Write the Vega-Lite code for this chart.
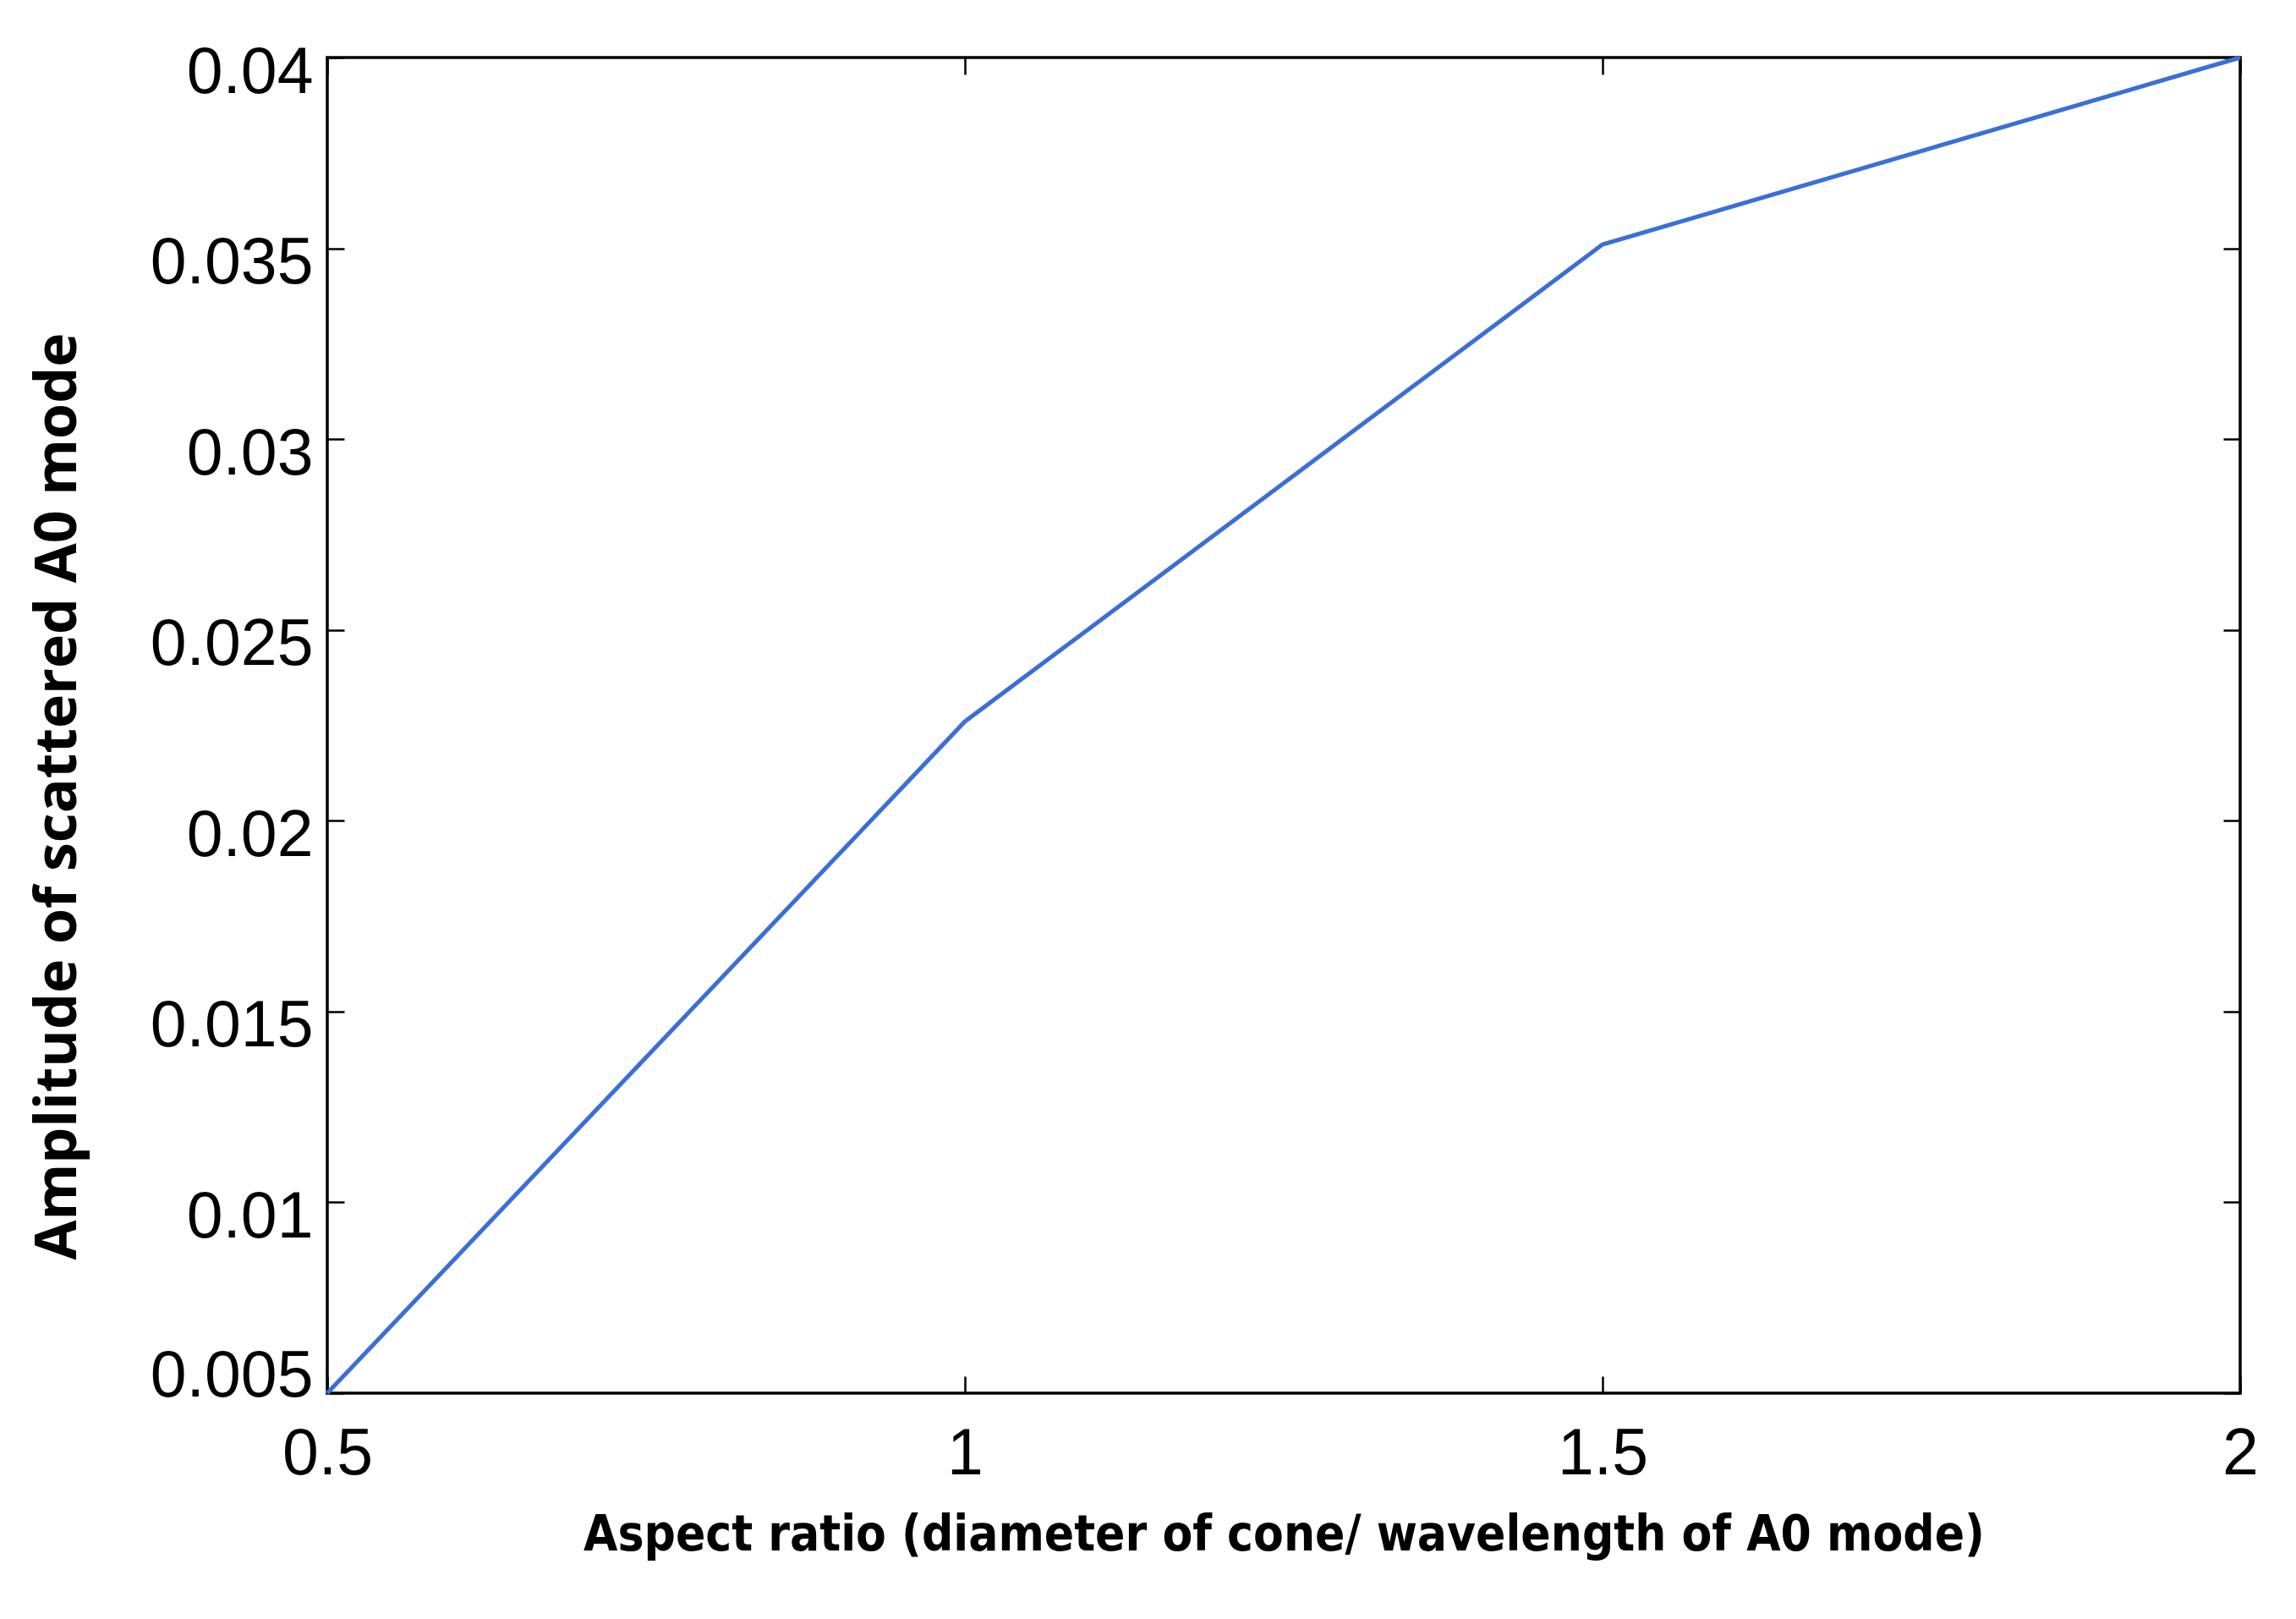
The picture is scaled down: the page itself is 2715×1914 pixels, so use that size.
{
  "$schema": "https://vega.github.io/schema/vega-lite/v6.json",
  "width": 2262,
  "height": 1579,
  "autosize": {"type": "none"},
  "padding": {"left": 387, "top": 68, "right": 66, "bottom": 267},
  "background": "white",
  "config": {
    "view": {"stroke": "#000000", "strokeWidth": 3.5},
    "axis": {
      "domain": false,
      "grid": false,
      "ticks": true,
      "tickColor": "#000000",
      "tickWidth": 2.5,
      "tickSize": -20,
      "labelFont": "Liberation Sans",
      "labelFontSize": 77,
      "labelLimit": 0,
      "labelColor": "#000000",
      "titleFontWeight": "bold",
      "titleColor": "#000000",
      "titleLimit": 0
    }
  },
  "data": {
    "values": [
      {"aspect": 0.5, "amp": 0.005},
      {"aspect": 1.0, "amp": 0.0226},
      {"aspect": 1.5, "amp": 0.0351},
      {"aspect": 2.0, "amp": 0.04}
    ]
  },
  "layer": [
    {
      "mark": {"type": "line", "color": "#3B6FD6", "strokeWidth": 5},
      "encoding": {
        "x": {
          "field": "aspect", "type": "quantitative",
          "scale": {"domain": [0.5, 2], "nice": false, "zero": false},
          "axis": {
            "orient": "bottom",
            "values": [0.5, 1, 1.5, 2],
            "format": "~g",
            "labelPadding": 54,
            "labelFlush": false,
            "title": "Aspect ratio (diameter of cone/ wavelength of A0 mode)",
            "titleFont": "DejaVu Sans Condensed",
            "titleFontSize": 58,
            "titleX": 1131,
            "titleY": 168,
            "titleAlign": "center",
            "titleBaseline": "middle"
          }
        },
        "y": {
          "field": "amp", "type": "quantitative",
          "scale": {"domain": [0.005, 0.04], "nice": false, "zero": false},
          "axis": {
            "orient": "left",
            "values": [0.005, 0.01, 0.015, 0.02, 0.025, 0.03, 0.035, 0.04],
            "format": ".3~f",
            "labelPadding": 37,
            "labelFlush": false,
            "labelOffset": {"condition": {"test": "datum.value <= 0.0051", "value": -20}, "value": 18},
            "title": "Amplitude of scattered A0 mode",
            "titleFont": "Open Sans",
            "titleFontSize": 68,
            "titleX": -318,
            "titleY": 873,
            "titleAngle": -90,
            "titleAlign": "center",
            "titleBaseline": "middle"
          }
        }
      }
    },
    {
      "mark": {"type": "line", "opacity": 0},
      "encoding": {
        "x": {
          "field": "aspect", "type": "quantitative",
          "scale": {"domain": [0.5, 2], "nice": false, "zero": false},
          "axis": {"orient": "top", "values": [0.5, 1, 1.5, 2], "labels": false, "title": null}
        },
        "y": {
          "field": "amp", "type": "quantitative",
          "scale": {"domain": [0.005, 0.04], "nice": false, "zero": false},
          "axis": {"orient": "right", "values": [0.005, 0.01, 0.015, 0.02, 0.025, 0.03, 0.035, 0.04], "labels": false, "title": null}
        }
      }
    }
  ],
  "resolve": {"axis": {"x": "independent", "y": "independent"}}
}
